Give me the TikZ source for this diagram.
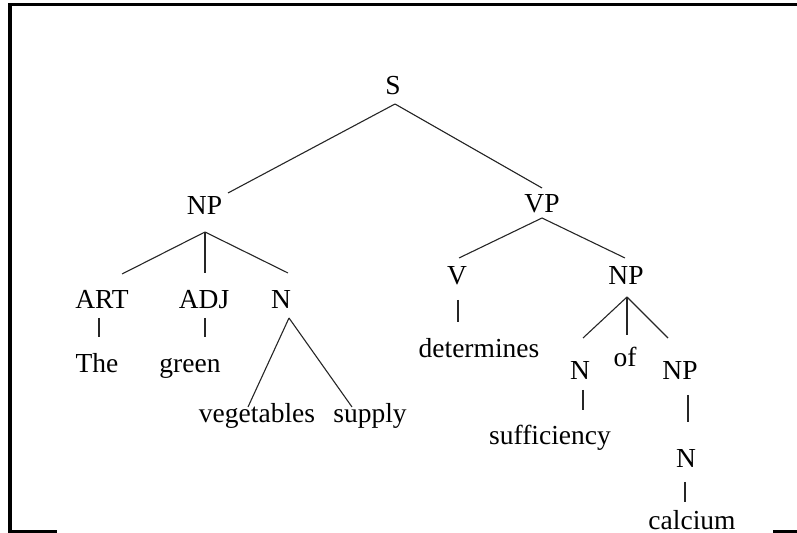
\documentclass[tikz,border=0pt]{standalone}
\usepackage{fontspec}
\setmainfont{Liberation Serif}
\usetikzlibrary{calc}
\begin{document}
\begin{tikzpicture}[x=0.5pt,y=-0.5pt,
  lbl/.style={anchor=base,inner sep=0pt,font=\fontsize{13.75}{16}\selectfont},
  edge/.style={line width=0.55pt,black!85},
  frame/.style={line width=1.65pt,black,line join=miter}]
\useasboundingbox (0,0) rectangle (797,533);
% frame
\draw[frame] (800,4.7) -- (10,4.7) -- (10,531.5) -- (57,531.5);
\draw[frame] (773,531.5) -- (800,531.5);
% nodes
\node[lbl] (S) at (393,95) {S};
\node[lbl] (NPa) at (204.5,215) {NP};
\node[lbl] (VP) at (542,213) {VP};
\node[lbl] (ART) at (102,309) {ART};
\node[lbl] (ADJ) at (204,309) {ADJ};
\node[lbl] (Na) at (281,309) {N};
\node[lbl] (The) at (97,373) {The};
\node[lbl] (green) at (190,373) {green};
\node[lbl] (veg) at (257,423) {vegetables};
\node[lbl] (supply) at (370,423) {supply};
\node[lbl] (V) at (457,285) {V};
\node[lbl] (NPb) at (626,285) {NP};
\node[lbl] (det) at (479,358) {determines};
\node[lbl] (Nb) at (580,380) {N};
\node[lbl] (of) at (625,367) {of};
\node[lbl] (NPc) at (680,380) {NP};
\node[lbl] (suff) at (550,445) {sufficiency};
\node[lbl] (Nc) at (686,467) {N};
\node[lbl] (calc) at (692,530) {calcium};
% connectors
\draw[edge] ($(S.base)+(2,9)$) -- ($(NPa.base)+(23.5,-22)$);
\draw[edge] ($(S.base)+(2,9)$) -- ($(VP.base)+(0,-25)$);
\draw[edge] ($(NPa.base)+(0.5,17)$) -- ($(ART.base)+(20,-35)$);
\draw[edge] ($(NPa.base)+(0.5,17)$) -- ($(ADJ.base)+(1,-36)$);
\draw[edge] ($(NPa.base)+(0.5,17)$) -- ($(Na.base)+(7,-36)$);
\draw[edge] ($(ART.base)+(-3,9)$) -- ($(The.base)+(2,-36)$);
\draw[edge] ($(ADJ.base)+(1,9)$) -- ($(green.base)+(15,-36)$);
\draw[edge] ($(Na.base)+(8,9)$) -- ($(veg.base)+(-9,-16)$);
\draw[edge] ($(Na.base)+(8,9)$) -- ($(supply.base)+(-18,-16)$);
\draw[edge] ($(VP.base)+(0,5)$) -- ($(V.base)+(2,-27)$);
\draw[edge] ($(VP.base)+(0,5)$) -- ($(NPb.base)+(-1,-27)$);
\draw[edge] ($(V.base)+(1,15)$) -- ($(det.base)+(-21,-36)$);
\draw[edge] ($(NPb.base)+(1,12)$) -- ($(Nb.base)+(3,-42)$);
\draw[edge] ($(NPb.base)+(1,12)$) -- ($(of.base)+(2,-32)$);
\draw[edge] ($(NPb.base)+(1,12)$) -- ($(NPc.base)+(-12,-42)$);
\draw[edge] ($(Nb.base)+(3,10)$) -- ($(suff.base)+(33,-35)$);
\draw[edge] ($(NPc.base)+(8,15)$) -- ($(Nc.base)+(2,-45)$);
\draw[edge] ($(Nc.base)+(-1,15)$) -- ($(calc.base)+(-7,-28)$);
\end{tikzpicture}
\end{document}
